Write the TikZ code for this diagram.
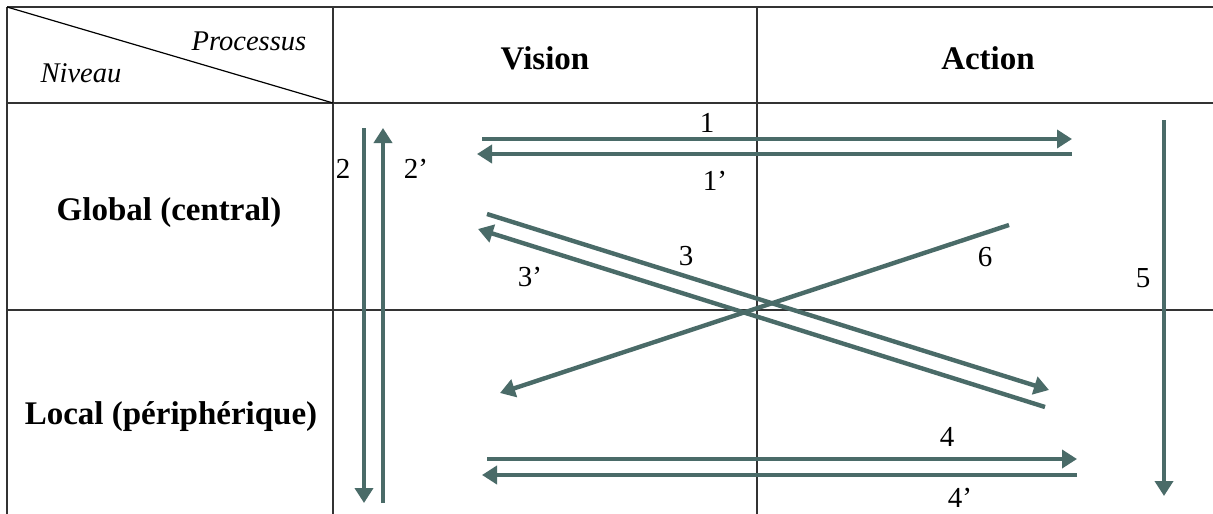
\documentclass[tikz,border=0pt]{standalone}
\usepackage{fontspec}
\setmainfont{Liberation Serif}
\usetikzlibrary{arrows.meta}
\definecolor{arr}{HTML}{4A6B68}
\definecolor{grid}{HTML}{333333}
\tikzset{
  gridline/.style={draw=grid, line width=1.4pt},
  flow/.style={draw=arr, line width=4.4pt, -{Triangle[length=15pt,width=18pt]}},
  lbl/.style={font=\fontsize{29}{31}\selectfont, inner sep=0pt},
  head/.style={font=\fontsize{33}{35}\selectfont\bfseries, inner sep=0pt},
  hdit/.style={font=\fontsize{28.5}{30}\selectfont\itshape, inner sep=0pt}
}
\begin{document}
\begin{tikzpicture}[x=1pt,y=-1pt]
\path[use as bounding box, fill=white] (0,0) rectangle (1213,514);
% table
\coordinate (tl) at (7,7);
\coordinate (hc) at (333,103);
\draw[gridline] (7,7) -- (1213,7);
\draw[gridline] (7,7) -- (7,514);
\draw[gridline] (7,103) -- (1213,103);
\draw[gridline] (7,310) -- (1213,310);
\draw[gridline] (333,7) -- (333,514);
\draw[gridline] (757,7) -- (757,514);
\draw[draw=black, line width=1.2pt] (tl) -- (hc);
% header texts
\node[hdit] (proc) at (249,41) {Processus};
\node[hdit] (niv) at (81,73) {Niveau};
\node[head] (vis) at (545,58) {Vision};
\node[head] (act) at (988,58) {Action};
\node[head] (glob) at (169,213) {Global (central)};
\node[head] (loc) at (171,417) {Local (périphérique)};
% coordinates for arrows
\coordinate (a2s) at (364,128); \coordinate (a2e) at (364,503);
\coordinate (b2s) at (383,503); \coordinate (b2e) at (383,128);
\coordinate (a1s) at (482,139); \coordinate (a1e) at (1072,139);
\coordinate (b1s) at (1072,154); \coordinate (b1e) at (477,154);
\coordinate (a5s) at (1164,120); \coordinate (a5e) at (1164,496);
\coordinate (a4s) at (487,459); \coordinate (a4e) at (1077,459);
\coordinate (b4s) at (1077,475); \coordinate (b4e) at (482,475);
\coordinate (a3s) at (487,214); \coordinate (a3e) at (1049,390);
\coordinate (b3s) at (1045,407); \coordinate (b3e) at (478,229);
\coordinate (a6s) at (1009,225); \coordinate (a6e) at (500,393);
% arrows
\draw[flow] (a2s) -- (a2e);
\draw[flow] (b2s) -- (b2e);
\draw[flow] (a1s) -- (a1e);
\draw[flow] (b1s) -- (b1e);
\draw[flow] (a5s) -- (a5e);
\draw[flow] (a4s) -- (a4e);
\draw[flow] (b4s) -- (b4e);
\draw[flow] (a3s) -- (a3e);
\draw[flow] (b3s) -- (b3e);
\draw[flow] (a6s) -- (a6e);
% labels
\node[lbl] (l2) at (343,169) {2};
\node[lbl] (l2p) at (416,169) {2’};
\node[lbl] (l1) at (707,123) {1};
\node[lbl] (l1p) at (715,181) {1’};
\node[lbl] (l3) at (686,256) {3};
\node[lbl] (l3p) at (530,277) {3’};
\node[lbl] (l6) at (985,257) {6};
\node[lbl] (l5) at (1143,278) {5};
\node[lbl] (l4) at (947,437) {4};
\node[lbl] (l4p) at (960,498) {4’};
\end{tikzpicture}
\end{document}
